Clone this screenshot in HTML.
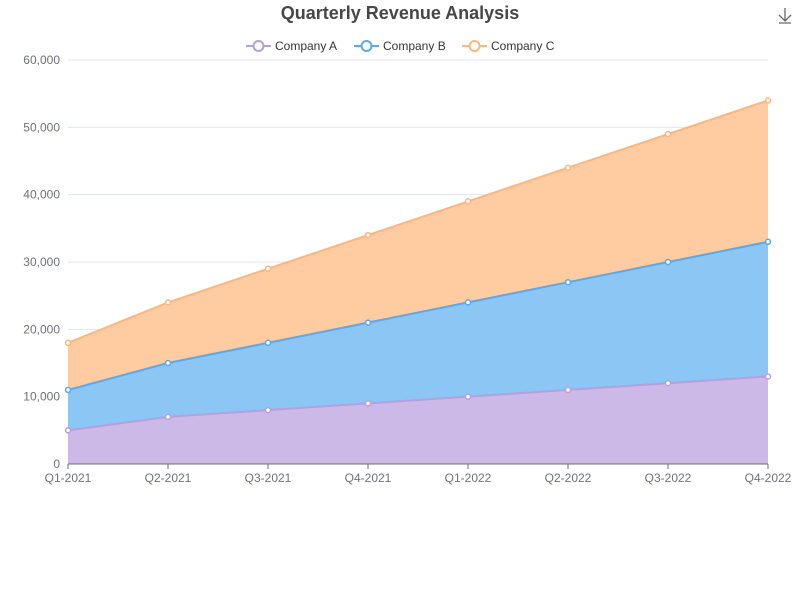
<!DOCTYPE html>
<html><head><meta charset="utf-8"><style>
body{margin:0;background:#fff;font-family:"Liberation Sans",sans-serif}
svg text{font-family:"Liberation Sans",sans-serif}
</style></head><body>
<svg id="chart" width="800" height="600">
<text x="400" y="19" text-anchor="middle" font-size="18" font-weight="bold" fill="#464646">Quarterly Revenue Analysis</text>
<g stroke="#666" fill="none" stroke-width="1.3">
<path d="M785 8v13M779 15l6 6 6-6M779 23h12"/>
</g>
<g id="grid"></g><g id="areas"></g><g id="lines"></g><g id="points"></g><g id="axes"></g>
<g id="legend"></g>
</svg>
<script>
const categories=["Q1-2021","Q2-2021","Q3-2021","Q4-2021","Q1-2022","Q2-2022","Q3-2022","Q4-2022"];
const companyA=[5000,7000,8000,9000,10000,11000,12000,13000];
const companyB=[6000,8000,10000,12000,14000,16000,18000,20000];
const companyC=[7000,9000,11000,13000,15000,17000,19000,21000];
const yTicks=[0,10000,20000,30000,40000,50000,60000];
const seriesNames=["Company A","Company B","Company C"];
const NS="http://www.w3.org/2000/svg";
const x0=68,x1=768,y0=464,y1=60,yMax=60000;
const xs=i=>x0+(x1-x0)*i/(categories.length-1);
const ys=v=>y0-(y0-y1)*v/yMax;
function mk(t,a,p){const e=document.createElementNS(NS,t);for(const k in a)e.setAttribute(k,a[k]);p.appendChild(e);return e;}
const grid=document.getElementById('grid'),axes=document.getElementById('axes'),areas=document.getElementById('areas'),lines=document.getElementById('lines'),points=document.getElementById('points'),legend=document.getElementById('legend');
yTicks.forEach(v=>{
 if(v>0){const l=mk('line',{x1:x0,x2:x1,y1:ys(v),y2:ys(v),stroke:'#e0e6f1'},grid);
 }
 const t=mk('text',{x:60,y:ys(v)+4,'text-anchor':'end','font-size':12,fill:'#6e7079'},axes);
 t.textContent=v.toLocaleString('en-US');
 
});
const al=mk('line',{x1:x0,x2:x1,y1:y0,y2:y0,stroke:'#6e7079'},axes);

categories.forEach((c,i)=>{
 const tk=mk('line',{x1:xs(i),x2:xs(i),y1:y0,y2:y0+5,stroke:'#6e7079'},axes);
 
 const t=mk('text',{x:xs(i),y:y0+18,'text-anchor':'middle','font-size':12,fill:'#6e7079'},axes);
 t.textContent=c;
});
const series=[companyA,companyB,companyC];
const lineCols=["#b59fdf","#5ba8ea","#ffb57e"],fillCols=["#cdb9e7","#8bc6f4","#ffcca2"];
let base=categories.map(()=>0);
series.forEach((s,k)=>{
 const top=s.map((v,i)=>base[i]+v);
 let d=top.map((v,i)=>(i?'L':'M')+xs(i)+' '+ys(v)).join(' ');
 for(let i=categories.length-1;i>=0;i--)d+=' L'+xs(i)+' '+ys(base[i]);
 const a=mk('path',{d:d+'Z',fill:fillCols[k]},areas);
 
 const ln=mk('path',{d:top.map((v,i)=>(i?'L':'M')+xs(i)+' '+ys(v)).join(' '),fill:'none',stroke:lineCols[k],'stroke-width':2},lines);
 
 top.forEach((v,i)=>{const p=mk('circle',{cx:xs(i),cy:ys(v),r:2.5,fill:'#fff',stroke:lineCols[k],'stroke-width':1.5},points);
 });
 base=top;
 const lx=[246,354,462][k];
 const g=mk('g',{},legend);
 
 mk('line',{x1:lx,x2:lx+25,y1:46,y2:46,stroke:lineCols[k],'stroke-width':2},g);
 mk('circle',{cx:lx+12.5,cy:46,r:5,fill:'#fff',stroke:lineCols[k],'stroke-width':2},g);
 const t=mk('text',{x:lx+29,y:50,'font-size':12,fill:'#333'},g);t.textContent=seriesNames[k];
});
</script>
</body></html>
